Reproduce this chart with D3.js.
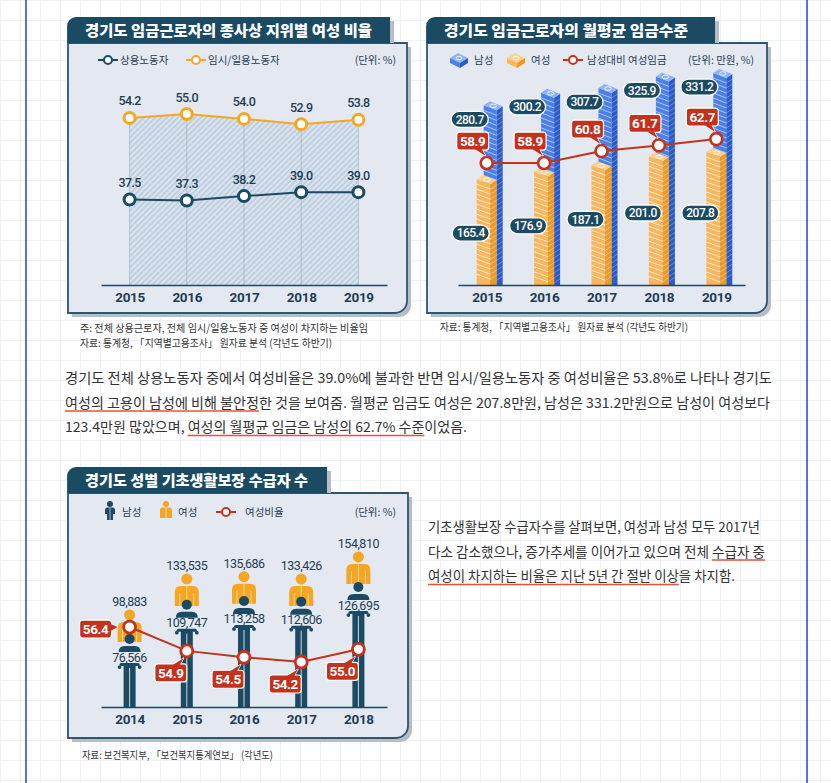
<!DOCTYPE html>
<html>
<head>
<meta charset="utf-8">
<script src="https://cdn.jsdelivr.net/npm/d3@7"></script>
<style>
  body { margin: 0; background: #fff; }
  svg { display: block; }
</style>
</head>
<body>
<svg width="831" height="783"></svg>
<script>
// ---------- data ----------
const empYears = ['2015', '2016', '2017', '2018', '2019'];
const regularShare = [37.5, 37.3, 38.2, 39.0, 39.0];
const tempShare = [54.2, 55.0, 54.0, 52.9, 53.8];

const wageYears = ['2015', '2016', '2017', '2018', '2019'];
const wageMale = [280.7, 300.2, 307.7, 325.9, 331.2];
const wageFemale = [165.4, 176.9, 187.1, 201.0, 207.8];
const wageRatio = [58.9, 58.9, 60.8, 61.7, 62.7];

const aidYears = ['2014', '2015', '2016', '2017', '2018'];
const aidMale = [76566, 109747, 113258, 112606, 126695];
const aidFemale = [98883, 133535, 135686, 133426, 154810];
const aidRatio = [56.4, 54.9, 54.5, 54.2, 55.0];

const titles = ['경기도 임금근로자의 종사상 지위별 여성 비율', '경기도 임금근로자의 월평균 임금수준', '경기도 성별 기초생활보장 수급자 수'];
const legend1 = ['상용노동자', '임시/일용노동자'];
const legend2 = ['남성', '여성', '남성대비 여성임금'];
const legend3 = ['남성', '여성', '여성비율'];
const units = ['(단위: %)', '(단위: 만원, %)', '(단위: %)'];
const notes1 = ['주: 전체 상용근로자, 전체 임시/일용노동자 중 여성이 차지하는 비율임', '자료: 통계청, 「지역별고용조사」 원자료 분석 (각년도 하반기)'];
const notes2 = ['자료: 통계청, 「지역별고용조사」 원자료 분석 (각년도 하반기)'];
const notes3 = ['자료: 보건복지부, 「보건복지통계연보」 (각년도)'];

const para1 = [
  '경기도 전체 상용노동자 중에서 여성비율은 39.0%에 불과한 반면 임시/일용노동자 중 여성비율은 53.8%로 나타나 경기도',
  '여성의 고용이 남성에 비해 불안정한 것을 보여줌. 월평균 임금도 여성은 207.8만원, 남성은 331.2만원으로 남성이 여성보다',
  '123.4만원 많았으며, 여성의 월평균 임금은 남성의 62.7% 수준이었음.'
];
const para1Marks = [null, '여성의 고용이 남성에 비해 불안정', '여성의 월평균 임금은 남성의 62.7% 수준'];
const para2 = [
  '기초생활보장 수급자수를 살펴보면, 여성과 남성 모두 2017년',
  '다소 감소했으나, 증가추세를 이어가고 있으며 전체 수급자 중',
  '여성이 차지하는 비율은 지난 5년 간 절반 이상을 차지함.'
];
const para2Marks = [null, '수급자 중', '여성이 차지하는 비율은 지난 5년 간 절반 이상'];

// ---------- setup ----------
const svg = d3.select('svg');
const width = +svg.attr('width');
const height = +svg.attr('height');

const C = {
  navy: '#1b4a63', text: '#1e3d53', orange: '#f5a623', red: '#c4311d',
  fill: '#e4e9f1', border: '#2d5670', shadow: '#b6bdc7', body: '#333'
};
const KR = '"Noto Sans CJK KR", "Noto Sans", sans-serif';
const NUM = 'Roboto, "Noto Sans", sans-serif';
const blue = { front: '#4c80e6', side: '#2b5bc8', top: '#8fb4f4', line: '#b3cdf9' };
const gold = { front: '#fbb55c', side: '#ef9a20', top: '#fdd18c', line: '#fff0d6' };

function label(g, s, x, y, o = {}) {
  const t = g.append('text').attr('x', x).attr('y', y).text(s)
    .attr('font-family', o.family || KR)
    .attr('font-size', o.size || 11)
    .attr('font-weight', o.weight || 400)
    .attr('fill', o.fill || C.text)
    .attr('text-anchor', o.anchor || 'start');
  if (o.ls) t.attr('letter-spacing', o.ls);
  if (o.len) t.attr('textLength', o.len).attr('lengthAdjust', 'spacingAndGlyphs');
  return t;
}

// background grid + side rules
svg.append('rect').attr('width', width).attr('height', height).attr('fill', '#fff');
const grid = svg.append('g').attr('stroke', '#eef1f6').attr('stroke-width', 1);
d3.range(0, width, 20).forEach(x => grid.append('line').attr('x1', x + 0.5).attr('x2', x + 0.5).attr('y1', 0).attr('y2', height));
d3.range(0, height, 20).forEach(y => grid.append('line').attr('y1', y + 0.5).attr('y2', y + 0.5).attr('x1', 0).attr('x2', width));
[26, 807].forEach(x => svg.append('line').attr('x1', x).attr('x2', x).attr('y1', 0).attr('y2', height)
  .attr('stroke', '#2643c6').attr('stroke-width', 1.5));

// hatch pattern
const defs = svg.append('defs');
const hatch = defs.append('pattern').attr('id', 'hatch').attr('patternUnits', 'userSpaceOnUse')
  .attr('width', 4).attr('height', 4).attr('patternTransform', 'rotate(45)');
hatch.append('rect').attr('width', 4).attr('height', 4).attr('fill', '#dbe4ee');
hatch.append('line').attr('x1', 1).attr('x2', 1).attr('y1', 0).attr('y2', 4).attr('stroke', '#b2c6da').attr('stroke-width', 1.4);

// panel frame with tab title
function panel(x, y, w, h, tabW, title, titleLen) {
  const r = 12;
  const box = (bx, by) => `M${bx},${by}H${bx + w}V${by + h - r}A${r},${r} 0 0 1 ${bx + w - r},${by + h}H${bx}Z`;
  svg.append('path').attr('d', box(x + 4, y + 4)).attr('fill', C.shadow);
  svg.append('path').attr('d', box(x, y)).attr('fill', C.fill).attr('stroke', C.border).attr('stroke-width', 1.8);
  svg.append('rect').attr('x', x + tabW).attr('y', y - 22).attr('width', 4).attr('height', 22).attr('fill', C.shadow);
  const th = 26, tr = 9;
  svg.append('path').attr('d', `M${x - 0.9},${y}V${y - th + tr}A${tr},${tr} 0 0 1 ${x - 0.9 + tr},${y - th}H${x + tabW}V${y}Z`)
    .attr('fill', C.navy);
  label(svg, title, x + 17, y - 7, { size: 15, weight: 900, fill: '#fff', len: titleLen });
  return svg.append('g');
}

function styleAxis(ax) {
  ax.select('.domain').attr('stroke', C.navy).attr('stroke-width', 1.6);
  ax.selectAll('text').attr('font-family', NUM).attr('font-weight', 700)
    .attr('font-size', 13.5).attr('fill', C.text).attr('letter-spacing', -0.3);
}

function lineKey(g, x, y, col) {
  g.append('line').attr('x1', x - 10).attr('x2', x + 10).attr('y1', y).attr('y2', y).attr('stroke', col).attr('stroke-width', 2);
  g.append('circle').attr('cx', x).attr('cy', y).attr('r', 4).attr('fill', '#fff').attr('stroke', col).attr('stroke-width', 2);
}

function tag(g, s, cx, cy, tail) {
  const w = 32, h = 18, L = cx - w / 2, T = cy - h / 2;
  let tri;
  if (tail === 'down') tri = [[L + w - 14, T + h - 1], [L + w - 7, T + h - 1], [L + w - 3, T + h + 6]];
  else if (tail === 'up') tri = [[L + w - 14, T + 1], [L + w - 7, T + 1], [L + w - 3, T - 6]];
  else tri = [[L + w - 1, cy - 5], [L + w - 1, cy + 2], [L + w + 6, cy - 2]];
  const d = 'M' + tri.join('L') + 'Z';
  g.append('path').attr('d', d).attr('fill', C.red).attr('stroke', '#fff').attr('stroke-width', 1.2);
  g.append('rect').attr('x', L).attr('y', T).attr('width', w).attr('height', h).attr('rx', 3)
    .attr('fill', C.red).attr('stroke', '#fff').attr('stroke-width', 1.2);
  g.append('path').attr('d', d).attr('fill', C.red);
  label(g, s, cx, cy + 5, { family: NUM, size: 13.5, weight: 700, fill: '#fff', anchor: 'middle', ls: -0.4 });
}

function pill(g, s, cx, cy) {
  const w = 37, h = 16;
  g.append('rect').attr('x', cx - w / 2).attr('y', cy - h / 2).attr('width', w).attr('height', h).attr('rx', h / 2)
    .attr('fill', C.navy).attr('stroke', '#fff').attr('stroke-width', 1.3);
  label(g, s, cx, cy + 4.3, { family: NUM, size: 12, weight: 500, fill: '#fff', anchor: 'middle', ls: -0.5 });
}

// =============== chart 1 ===============
const g1 = panel(68, 43, 339, 270, 322, titles[0], 287);
lineKey(g1, 108, 60, C.navy);
label(g1, legend1[0], 120, 64, { size: 10.5 });
lineKey(g1, 196, 60, C.orange);
label(g1, legend1[1], 208, 64, { size: 10.5 });
label(g1, units[0], 396, 64, { size: 10.5, anchor: 'end' });

const x1 = d3.scalePoint().domain(empYears).range([101, 387]).padding(0.5);
const y1 = d3.scaleLinear().domain([20, 55]).range([285, 114]);

g1.append('path').datum(tempShare)
  .attr('d', d3.area().x((d, i) => x1(empYears[i])).y0(y1(20)).y1(d => y1(d)))
  .attr('fill', 'url(#hatch)');
empYears.forEach((yr, i) => g1.append('line').attr('x1', x1(yr)).attr('x2', x1(yr))
  .attr('y1', y1(tempShare[i])).attr('y2', y1(20)).attr('stroke', '#9db1c4').attr('stroke-width', 0.7));

const ax1 = g1.append('g').attr('transform', 'translate(0,285)')
  .call(d3.axisBottom(x1).tickSize(0).tickPadding(7));
styleAxis(ax1);

[[regularShare, C.navy], [tempShare, C.orange]].forEach(([vals, col]) => {
  g1.append('path').datum(vals)
    .attr('d', d3.line().x((d, i) => x1(empYears[i])).y(d => y1(d)))
    .attr('fill', 'none').attr('stroke', col).attr('stroke-width', 2);
  vals.forEach((v, i) => {
    g1.append('circle').attr('cx', x1(empYears[i])).attr('cy', y1(v)).attr('r', 5.5)
      .attr('fill', '#fff').attr('stroke', col).attr('stroke-width', 3);
    label(g1, v.toFixed(1), x1(empYears[i]), y1(v) - 12.5, { family: NUM, size: 12.5, weight: 500, anchor: 'middle', ls: -0.6 });
  });
});

notes1.forEach((s, i) => label(svg, s, 80, 332 + i * 15, { size: 10.5, fill: C.body, len: i === 0 ? 288 : 252 }));

// =============== chart 2 ===============
const g2 = panel(427, 43, 340, 270, 288, titles[1], 244);

function miniBrick(g, x, y, col) {
  g.append('path').attr('d', `M${x - 9},${y - 3}L${x - 1},${y - 8}L${x + 9},${y - 3}L${x + 1},${y + 2}Z`).attr('fill', col.top);
  g.append('path').attr('d', `M${x - 9},${y - 3}L${x + 1},${y + 2}L${x + 1},${y + 7}L${x - 9},${y + 2}Z`).attr('fill', col.front);
  g.append('path').attr('d', `M${x + 1},${y + 2}L${x + 9},${y - 3}L${x + 9},${y + 2}L${x + 1},${y + 7}Z`).attr('fill', col.side);
  g.append('ellipse').attr('cx', x).attr('cy', y - 3).attr('rx', 3).attr('ry', 1.7)
    .attr('fill', 'none').attr('stroke', '#fff').attr('stroke-width', 0.8);
}
miniBrick(g2, 459, 61, blue);
label(g2, legend2[0], 474, 64, { size: 10.5 });
miniBrick(g2, 516, 61, gold);
label(g2, legend2[1], 531, 64, { size: 10.5 });
lineKey(g2, 573, 60, C.red);
label(g2, legend2[2], 587, 64, { size: 10.5 });
label(g2, units[1], 754, 64, { size: 10.5, anchor: 'end' });

const x2 = d3.scalePoint().domain(wageYears).range([458, 745]).padding(0.5);
const y2 = d3.scaleLinear().domain([0, 350]).range([285, 61]);
const r2 = d3.scaleLinear().domain([55, 65]).range([187.6, 124.6]);

function column(g, cx, top, base, a, b, c, col) {
  const x0 = cx + a, xa = cx + b, xb = cx + c, d1 = 5, d2 = 4;
  g.append('path').attr('d', `M${x0},${top}L${xa},${top + d1}L${xa},${base}L${x0},${base}Z`).attr('fill', col.front);
  g.append('path').attr('d', `M${xa},${top + d1}L${xb},${top + d1 - d2}L${xb},${base}L${xa},${base}Z`).attr('fill', col.side);
  for (let k = 5; top + d1 + k < base - 2; k += 5) {
    g.append('line').attr('x1', x0).attr('y1', top + k).attr('x2', xa).attr('y2', top + d1 + k)
      .attr('stroke', col.line).attr('stroke-width', 0.9);
    g.append('line').attr('x1', xa).attr('y1', top + d1 + k).attr('x2', xb).attr('y2', top + d1 - d2 + k)
      .attr('stroke', col.line).attr('stroke-width', 0.7).attr('opacity', 0.6);
  }
  g.append('path').attr('d', `M${x0},${top}L${xa},${top + d1}L${xb},${top + d1 - d2}L${x0 + xb - xa},${top - d2}Z`).attr('fill', col.top);
  g.append('ellipse').attr('cx', (x0 + xb) / 2).attr('cy', top + (d1 - d2) / 2).attr('rx', 3.2).attr('ry', 1.8)
    .attr('fill', 'none').attr('stroke', '#fff').attr('stroke-width', 0.8);
}

wageYears.forEach((yr, i) => {
  const cx = x2(yr);
  column(g2, cx, y2(wageMale[i]), 285, -3, 10, 16, blue);
  column(g2, cx, y2(wageFemale[i]), 285, -10, 4, 10, gold);
});

const ax2 = g2.append('g').attr('transform', 'translate(0,285)')
  .call(d3.axisBottom(x2).tickSize(0).tickPadding(7));
styleAxis(ax2);

wageYears.forEach((yr, i) => {
  const cx = x2(yr);
  pill(g2, wageMale[i].toFixed(1), cx - 17, y2(wageMale[i]) + 14);
  pill(g2, wageFemale[i].toFixed(1), cx - 16, Math.max(y2(wageFemale[i]) + 54, 213));
});

g2.append('path').datum(wageRatio)
  .attr('d', d3.line().x((d, i) => x2(wageYears[i])).y(d => r2(d)))
  .attr('fill', 'none').attr('stroke', C.red).attr('stroke-width', 2);
wageRatio.forEach((v, i) => {
  const cx = x2(wageYears[i]), cy = r2(v);
  g2.append('circle').attr('cx', cx).attr('cy', cy).attr('r', 6).attr('fill', '#fff').attr('stroke', C.red).attr('stroke-width', 2.6);
  tag(g2, v.toFixed(1), cx - 14, cy - 22, 'down');
});

notes2.forEach(s => label(svg, s, 440, 331, { size: 10.5, fill: C.body, len: 248 }));

// =============== paragraph 1 ===============
function paragraph(lines, marks, x, y0, lens) {
  const g = svg.append('g');
  lines.forEach((s, i) => {
    const y = y0 + i * 24.5;
    const t = label(g, s, x, y, { size: 13.5, fill: C.body, len: lens[i] });
    const m = marks[i];
    if (m) {
      const a = s.indexOf(m), node = t.node();
      const xs = node.getStartPositionOfChar(a).x;
      const xe = node.getEndPositionOfChar(a + m.length - 1).x;
      g.append('line').attr('x1', xs).attr('x2', xe).attr('y1', y + 3.5).attr('y2', y + 3.5)
        .attr('stroke', '#e2553b').attr('stroke-width', 1.5);
    }
  });
}
paragraph(para1, para1Marks, 65, 383, [707, 705, 402]);

// =============== chart 3 ===============
const g3 = panel(68, 493, 340, 245, 259, titles[2], 223);

function smallMale(g, x, y) {
  g.append('circle').attr('cx', x).attr('cy', y - 7).attr('r', 3).attr('fill', C.navy);
  g.append('path').attr('d', `M${x - 5},${y + 3}V${y - 1}Q${x - 5},${y - 3.5} ${x - 2.5},${y - 3.5}H${x + 2.5}Q${x + 5},${y - 3.5} ${x + 5},${y - 1}V${y + 3}Z`).attr('fill', C.navy);
  g.append('rect').attr('x', x - 3).attr('y', y + 3).attr('width', 6).attr('height', 6).attr('fill', C.navy);
  g.append('line').attr('x1', x).attr('x2', x).attr('y1', y - 3).attr('y2', y + 9).attr('stroke', '#fff').attr('stroke-width', 0.6);
}
function smallFemale(g, x, y) {
  g.append('circle').attr('cx', x).attr('cy', y - 7).attr('r', 3).attr('fill', C.orange);
  g.append('path').attr('d', `M${x - 6},${y + 7}V${y - 1}Q${x - 6},${y - 3.5} ${x - 3},${y - 3.5}H${x + 3}Q${x + 6},${y - 3.5} ${x + 6},${y - 1}V${y + 7}Z`).attr('fill', C.orange);
  g.append('line').attr('x1', x).attr('x2', x).attr('y1', y - 3).attr('y2', y + 7).attr('stroke', '#fff').attr('stroke-width', 0.6);
}
smallMale(g3, 110, 511);
label(g3, legend3[0], 122, 516, { size: 10.5 });
smallFemale(g3, 166, 511);
label(g3, legend3[1], 178, 516, { size: 10.5 });
lineKey(g3, 226, 512, C.red);
label(g3, legend3[2], 245, 516, { size: 10.5 });
label(g3, units[2], 396, 516, { size: 10.5, anchor: 'end' });

const x3 = d3.scalePoint().domain(aidYears).range([101, 387]).padding(0.5);
const p3 = d3.scaleLinear().domain([50000, 160000]).range([692.6, 578.5]);
const r3 = d3.scaleLinear().domain([54, 57]).range([665.2, 617.5]);
const base3 = 707;
const fmt = d3.format(',');

function female(g, cx, fy, v) {
  g.append('circle').attr('cx', cx).attr('cy', fy - 27).attr('r', 5.5).attr('fill', C.orange);
  g.append('path').attr('d', `M${cx - 12},${fy}V${fy - 14}Q${cx - 12},${fy - 20} ${cx - 6},${fy - 20}H${cx + 6}Q${cx + 12},${fy - 20} ${cx + 12},${fy - 14}V${fy}Z`)
    .attr('fill', C.orange);
  [[0, fy - 20], [-7, fy - 13], [7, fy - 13]].forEach(([dx, y]) => g.append('line')
    .attr('x1', cx + dx).attr('x2', cx + dx).attr('y1', y).attr('y2', fy)
    .attr('stroke', '#fde2b0').attr('stroke-width', 0.8));
  label(g, fmt(v), cx, fy - 36, { family: NUM, size: 12.5, anchor: 'middle', ls: -0.5 });
}
function male(g, cx, hy, v) {
  g.append('rect').attr('x', cx - 6).attr('y', hy).attr('width', 12).attr('height', base3 - hy).attr('fill', C.navy);
  g.append('line').attr('x1', cx).attr('x2', cx).attr('y1', hy + 3).attr('y2', base3)
    .attr('stroke', '#fff').attr('stroke-width', 0.8);
  g.append('rect').attr('x', cx - 10).attr('y', hy - 2).attr('width', 20).attr('height', 3).attr('rx', 1.5).attr('fill', C.navy);
  [-10, -4, 4, 10].forEach(dx => g.append('circle').attr('cx', cx + dx).attr('cy', hy + 2)
    .attr('r', Math.abs(dx) > 5 ? 1.9 : 1.2).attr('fill', C.navy));
  g.append('path').attr('d', `M${cx - 11},${hy - 13}Q${cx - 11},${hy - 19} ${cx - 5},${hy - 19}H${cx + 5}Q${cx + 11},${hy - 19} ${cx + 11},${hy - 13}Z`)
    .attr('fill', C.navy);
  g.append('circle').attr('cx', cx).attr('cy', hy - 26).attr('r', 5).attr('fill', C.navy);
  label(g, fmt(v), cx, hy - 3.5, { family: NUM, size: 12.5, anchor: 'middle', ls: -0.5 });
}

aidYears.forEach((yr, i) => {
  const cx = x3(yr);
  female(g3, cx, p3(aidFemale[i]), aidFemale[i]);
  male(g3, cx, p3(aidMale[i]), aidMale[i]);
});

const ax3 = g3.append('g').attr('transform', `translate(0,${base3})`)
  .call(d3.axisBottom(x3).tickSize(0).tickPadding(7));
styleAxis(ax3);

g3.append('path').datum(aidRatio)
  .attr('d', d3.line().x((d, i) => x3(aidYears[i])).y(d => r3(d)))
  .attr('fill', 'none').attr('stroke', C.red).attr('stroke-width', 2);
aidRatio.forEach((v, i) => {
  const cx = x3(aidYears[i]), cy = r3(v);
  g3.append('circle').attr('cx', cx).attr('cy', cy).attr('r', 6).attr('fill', '#fff').attr('stroke', C.red).attr('stroke-width', 2.8);
  if (i === 0) tag(g3, v.toFixed(1), cx - 34, cy + 2, 'right');
  else tag(g3, v.toFixed(1), cx - 16, cy + 22, 'up');
});

notes3.forEach(s => label(svg, s, 82, 759, { size: 10.5, fill: C.body, len: 191 }));

// =============== paragraph 2 ===============
paragraph(para2, para2Marks, 428, 532, [332, 337, 307]);
</script>
</body>
</html>
